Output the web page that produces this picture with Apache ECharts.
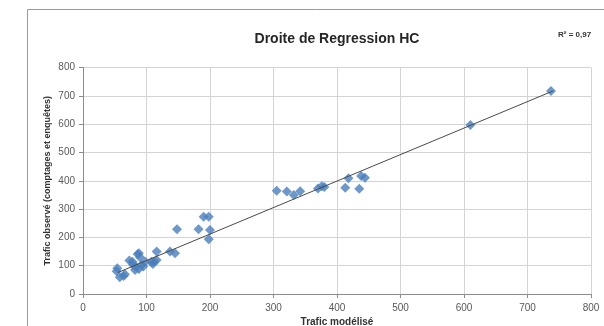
<!DOCTYPE html>
<html>
<head>
<meta charset="utf-8">
<script src="https://cdn.jsdelivr.net/npm/echarts@6/dist/echarts.min.js"></script>
<style>
html,body{margin:0;padding:0;background:#fff;}
#c{width:604px;height:326px;}
</style>
</head>
<body>
<div id="c"></div>
<script>
// Data
const modelled = [54, 53, 58, 64, 73, 78, 88, 90, 83, 82, 88, 92, 98, 108, 110, 116, 116, 137, 145, 148, 182, 190, 198, 200, 198, 86, 95, 112, 79, 66,
                  305, 321, 332, 342, 370, 376, 380, 413, 418, 435, 438, 444, 610, 737];
const observed = [91, 80, 59, 64, 118, 114, 144, 130, 97, 85, 88, 102, 114, 114, 106, 120, 150, 150, 144, 229, 229, 273, 273, 226, 193, 140, 97, 114, 102, 70,
                  365, 362, 350, 363, 373, 381, 378, 375, 409, 372, 417, 411, 597, 717];
const trendX = [55, 740];
const trendY = [76, 717];
const xTicks = [0, 100, 200, 300, 400, 500, 600, 700, 800];
const yTicks = [0, 100, 200, 300, 400, 500, 600, 700, 800];
const titleText = 'Droite de Regression HC';
const r2Text = 'R² = 0,97';
const xName = 'Trafic modélisé';
const yName = 'Trafic observé (comptages et enquêtes)';

const points = modelled.map((x, i) => [x, observed[i]]);
const trend = trendX.map((x, i) => [x, trendY[i]]);

const font = 'Liberation Sans, Arial, sans-serif';
const chart = echarts.init(document.getElementById('c'), null, {renderer: 'canvas'});
chart.setOption({
  animation: false,
  backgroundColor: '#ffffff',
  graphic: [
    {type: 'rect', shape: {x: 27.5, y: 9.5, width: 700, height: 400}, style: {fill: 'none', stroke: '#9a9a9a', lineWidth: 1}, z: -1},
    {type: 'text', left: 558, top: 31, style: {text: r2Text, font: 'bold 8px ' + font, fill: '#333333'}}
  ],
  title: {
    text: titleText, left: 332, top: 27, textAlign: 'center',
    textStyle: {fontFamily: font, fontSize: 14, fontWeight: 'bold', color: '#262626'}
  },
  grid: {left: 83, right: 13, top: 67.5, bottom: 32, containLabel: false, outerBoundsMode: 'none'},
  xAxis: {
    type: 'value', min: xTicks[0], max: xTicks[xTicks.length - 1], interval: 100,
    name: xName, nameLocation: 'middle', nameGap: 23, nameMoveOverlap: false,
    nameTextStyle: {fontFamily: font, fontSize: 10, fontWeight: 'bold', color: '#333333'},
    axisLine: {show: true, lineStyle: {color: '#8c8c8c', width: 1}},
    axisTick: {show: true, length: 4, lineStyle: {color: '#8c8c8c'}},
    axisLabel: {fontFamily: font, fontSize: 10, color: '#595959', margin: 9},
    splitLine: {show: true, lineStyle: {color: '#d4d4d4', width: 1}}
  },
  yAxis: {
    type: 'value', min: yTicks[0], max: yTicks[yTicks.length - 1], interval: 100,
    name: yName, nameLocation: 'middle', nameGap: 31, nameRotate: 90, nameMoveOverlap: false,
    nameTextStyle: {fontFamily: font, fontSize: 9, fontWeight: 'bold', color: '#333333'},
    axisLine: {show: true, lineStyle: {color: '#8c8c8c', width: 1}},
    axisTick: {show: true, length: 4, lineStyle: {color: '#8c8c8c'}},
    axisLabel: {fontFamily: font, fontSize: 10, color: '#595959', margin: 8},
    splitLine: {show: true, lineStyle: {color: '#d4d4d4', width: 1}}
  },
  series: [
    {
      type: 'scatter', data: points, symbol: 'diamond', symbolSize: 10,
      itemStyle: {color: '#4a7ebb'}, z: 3
    },
    {
      type: 'line', data: trend, showSymbol: false, symbol: 'none',
      lineStyle: {color: '#4a4a4a', width: 1}, z: 4, silent: true
    }
  ]
});
</script>
</body>
</html>
